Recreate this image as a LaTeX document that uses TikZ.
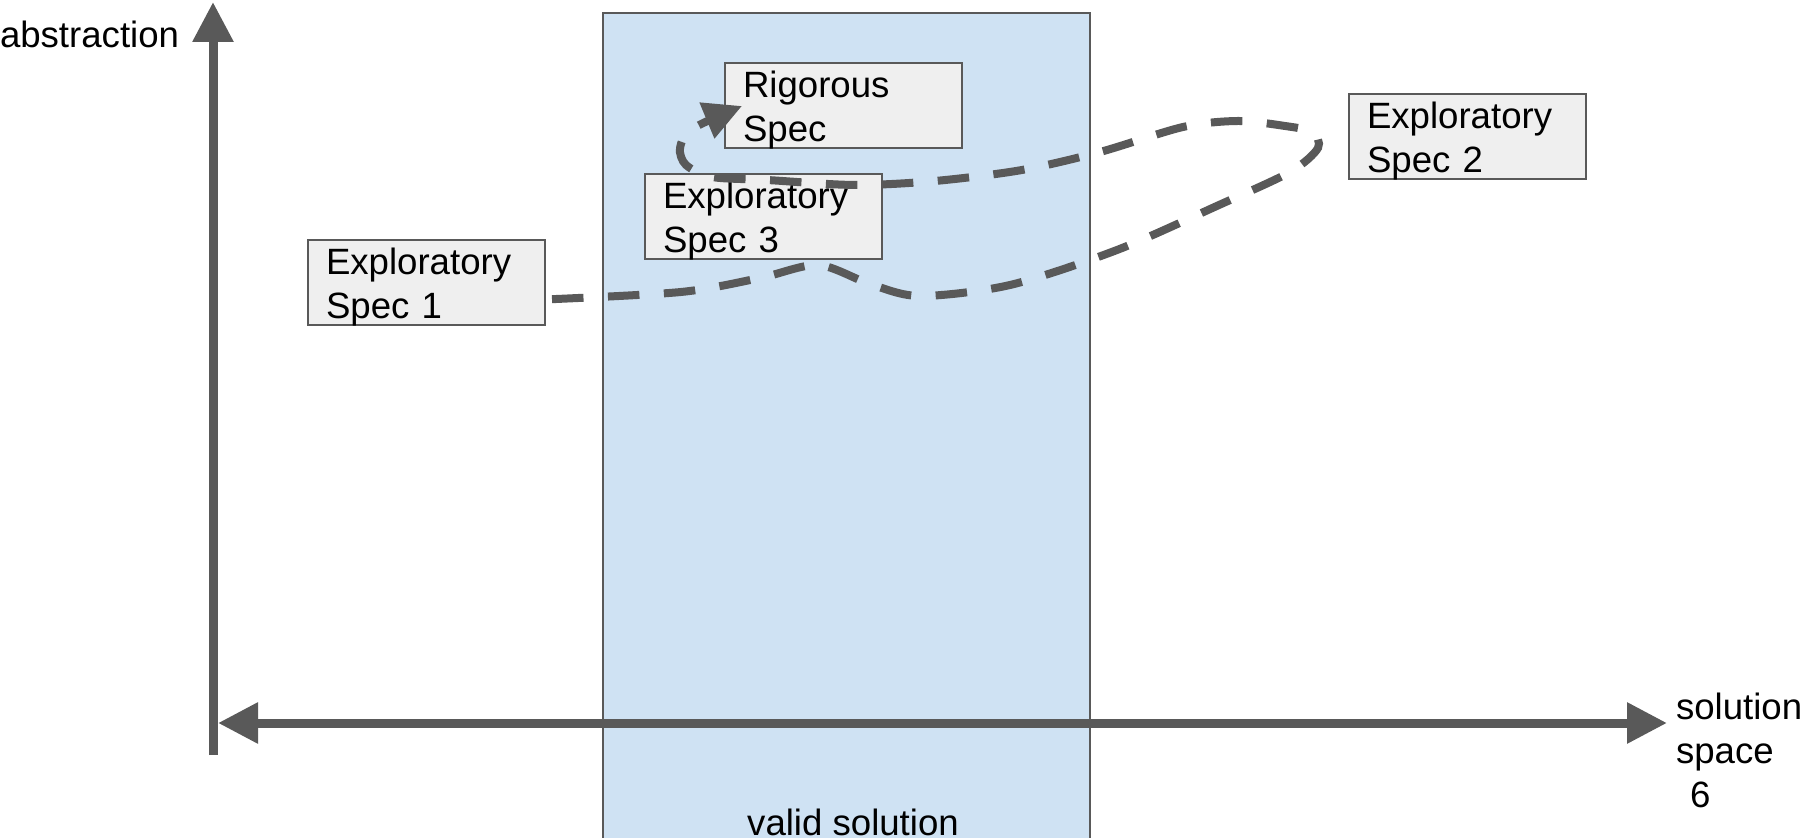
\documentclass[tikz,border=0pt]{standalone}
\usepackage{fontspec}
\setmainfont{Liberation Sans}
\usetikzlibrary{arrows.meta,calc}
\definecolor{axisgray}{HTML}{595959}
\definecolor{boxfill}{HTML}{EFEFEF}
\definecolor{validblue}{HTML}{CFE2F3}
\begin{document}
\begin{tikzpicture}[x=0.5pt,y=-0.5pt,
  txt/.style={font=\fontsize{18.3pt}{22pt}\selectfont, text=black},
  lbl/.style={txt, inner sep=0pt, outer sep=0pt},
  specbox/.style={txt, draw=axisgray, line width=1pt, fill=boxfill, anchor=north west,
    minimum width=118.5pt, minimum height=42.5pt, text width=100.5pt, text depth=21pt,
    inner xsep=9pt, inner ysep=0pt, outer sep=0pt, align=left},
  axisline/.style={draw=axisgray, line width=4.5pt},
  axtip/.tip={Triangle[length=20pt,width=19.5pt]},
  flow/.style={draw=axisgray, line width=4pt, dash pattern=on 15.75pt off 12.25pt,
    dash phase=24.5pt, -{Triangle[length=19pt,width=18.5pt]}}
]
\useasboundingbox (0,0) rectangle (1808,838);
\clip (0,0) rectangle (1808,838);
% valid solution region
\path[draw=axisgray, line width=1pt, fill=validblue] (603,13) rectangle (1090,870);
\node[lbl, anchor=base] (valid) at (853,835) {valid solution};
% axes
\coordinate (ytop) at (213,2);
\coordinate (ybot) at (213,755);
\coordinate (xleft) at (218,723);
\coordinate (xright) at (1667,723);
\draw[axisline, -axtip] (ybot) -- (ytop);
\draw[axisline, axtip-axtip] (xleft) -- (xright);
\node[lbl, anchor=base west] (abs) at (0,48) {abstraction};
\node[lbl, anchor=base west, align=left] (sol) at (1676,807) {solution\\space\\\hspace*{7pt}6};
% boxes
\node[specbox] (rig) at (725,63) {Rigorous\\Spec};
\node[specbox] (e3) at (645,174) {Exploratory\\Spec 3};
\node[specbox] (e2) at (1349,94) {Exploratory\\Spec 2};
\node[specbox] (e1) at (308,240) {Exploratory\\Spec 1};
% exploration path
\coordinate (start) at ($(e1.east)+(0,17)$);
\coordinate (tip) at ($(rig.south west)+(17,-42)$);
\draw[flow] plot[smooth, tension=0.5] coordinates {
  (start) (681,292) (760,278) (818,265) (870,284) (920,296) (1010,285)
  (1117,250) (1219,205) (1290,172) (1318,148) (1312,132) (1285,126)
  (1238,121) (1183,127) (1100,152) (1022,170) (935,181) (855,185)
  (767,180) (712,177) (686,165) (680,148) (692,129) (tip)};
\end{tikzpicture}
\end{document}
